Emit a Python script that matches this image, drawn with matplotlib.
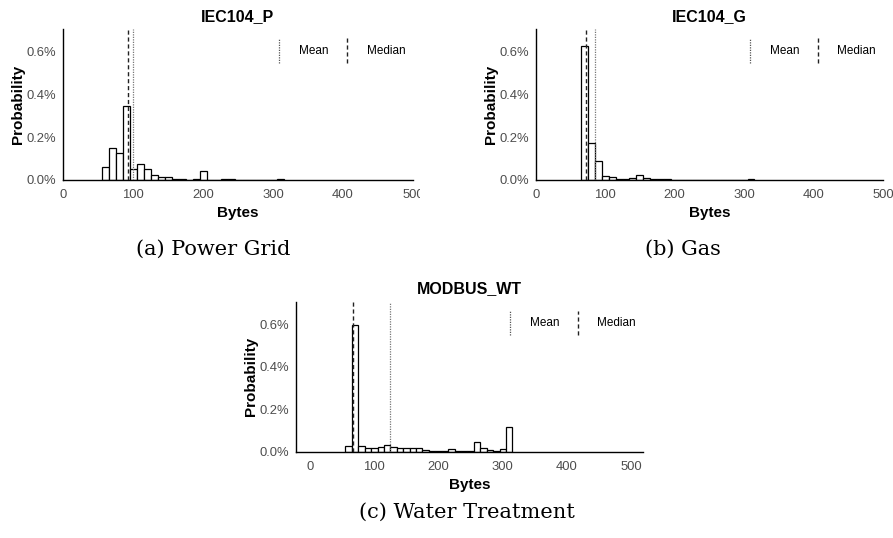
import matplotlib
matplotlib.use("Agg")
import matplotlib.pyplot as plt
from matplotlib.ticker import FuncFormatter
from matplotlib.transforms import Bbox, TransformedBbox
import numpy as np

plt.rcParams['font.family'] = ['Liberation Sans', 'DejaVu Sans']

# ---- data (probability in %, bins of 10 bytes centred on multiples of 10) ----
titles = ["IEC104_P", "IEC104_G", "MODBUS_WT"]
captions = ["(a) Power Grid", "(b) Gas", "(c) Water Treatment"]

centers_p = [60, 70, 80, 90, 100, 110, 120, 130, 140, 150, 160, 170, 180, 190,
             200, 210, 220, 230, 240, 250, 260, 270, 280, 290, 300, 310]
heights_p = [0.061, 0.148, 0.128, 0.346, 0.050, 0.076, 0.051, 0.022, 0.014, 0.013,
             0.005, 0.005, 0.002, 0.003, 0.044, 0.002, 0.002, 0.003, 0.007, 0.002,
             0.002, 0.002, 0.002, 0.001, 0.001, 0.004]

centers_g = [70, 80, 90, 100, 110, 120, 130, 140, 150, 160, 170, 180, 190, 200,
             210, 220, 230, 240, 250, 260, 270, 280, 290, 300, 310]
heights_g = [0.626, 0.171, 0.087, 0.017, 0.013, 0.003, 0.004, 0.009, 0.022, 0.009,
             0.005, 0.003, 0.003, 0.002, 0.002, 0.001, 0.002, 0.001, 0.001, 0.001,
             0.002, 0.001, 0.001, 0.001, 0.005]

centers_w = [60, 70, 80, 90, 100, 110, 120, 130, 140, 150, 160, 170, 180, 190,
             200, 210, 220, 230, 240, 250, 260, 270, 280, 290, 300, 310]
heights_w = [0.028, 0.596, 0.025, 0.016, 0.016, 0.021, 0.030, 0.021, 0.019, 0.016,
             0.019, 0.016, 0.009, 0.004, 0.004, 0.003, 0.014, 0.003, 0.004, 0.003,
             0.045, 0.019, 0.010, 0.003, 0.012, 0.118]

means = [100.5, 85.0, 124.5]
medians = [93.0, 72.0, 66.5]

xticks = [0, 100, 200, 300, 400, 500]
yticks = [0.0, 0.2, 0.4, 0.6]
xlims = [(0, 500), (0, 500), (-22, 518)]

W, H = 893, 538
fig = plt.figure(figsize=(W / 100, H / 100), dpi=100)

# axes rectangles in pixels: left, top, right, bottom
rects = [(63, 29, 413, 180), (535.7, 29, 883, 180), (296, 301.7, 642.7, 451.7)]
caption_pos = [(213, 249), (683, 249), (467, 512)]

data = [(centers_p, heights_p), (centers_g, heights_g), (centers_w, heights_w)]
tick_grey = '#4d4d4d'

for i, (l, t, r, b) in enumerate(rects):
    ax = fig.add_axes([l / W, (H - b) / H, (r - l) / W, (b - t) / H])
    c, h = data[i]
    ax.bar(c, h, width=10, facecolor='white', edgecolor='black', linewidth=0.9, zorder=2)
    ax.axvline(medians[i], color='#222222', linestyle=(0, (3, 2)), linewidth=1.0, zorder=3)
    ax.axvline(means[i], color='#777777', linestyle=(0, (1, 1)), linewidth=0.9, zorder=3)
    ax.set_xlim(*xlims[i])
    ax.set_ylim(0, 0.705)
    ax.set_xticks(xticks)
    ax.set_yticks(yticks)
    ax.yaxis.set_major_formatter(FuncFormatter(lambda v, p: f"{v:.1f}%"))
    ax.tick_params(axis='both', length=0, labelsize=9.4, labelcolor=tick_grey, pad=5)
    ax.tick_params(axis='x', pad=6.5)
    for s in ['top', 'right']:
        ax.spines[s].set_visible(False)
    for s in ['left', 'bottom']:
        ax.spines[s].set_linewidth(1.0)
        ax.spines[s].set_color('black')
    ax.set_title(titles[i], fontsize=11.5, fontweight='bold', pad=6)
    ax.set_xlabel("Bytes", fontsize=11, fontweight='bold', labelpad=3.5)
    ax.set_ylabel("Probability", fontsize=11, fontweight='bold', labelpad=1)
    # inline legend
    ax.plot([0.616, 0.616], [0.777, 0.94], transform=ax.transAxes, color='#555555',
            linestyle=(0, (1, 1)), linewidth=0.9, clip_on=False)
    ax.text(0.674, 0.856, "Mean", transform=ax.transAxes, fontsize=8.5, va='center', ha='left')
    ax.plot([0.812, 0.812], [0.777, 0.94], transform=ax.transAxes, color='#222222',
            linestyle=(0, (3, 2)), linewidth=1.0, clip_on=False)
    ax.text(0.868, 0.856, "Median", transform=ax.transAxes, fontsize=8.5, va='center', ha='left')
    if i == 0:
        fig.canvas.draw()
        clipbox = TransformedBbox(Bbox([[0, 0], [420 / W, 1]]), fig.transFigure)
        for lab in ax.get_xticklabels():
            lab.set_clip_on(True)
            lab.set_clip_box(clipbox)
    cx, cy = caption_pos[i]
    fig.text(cx / W, 1 - cy / H, captions[i], fontsize=15, family='DejaVu Serif',
             ha='center', va='center')

fig.savefig("out.png", dpi=100)
